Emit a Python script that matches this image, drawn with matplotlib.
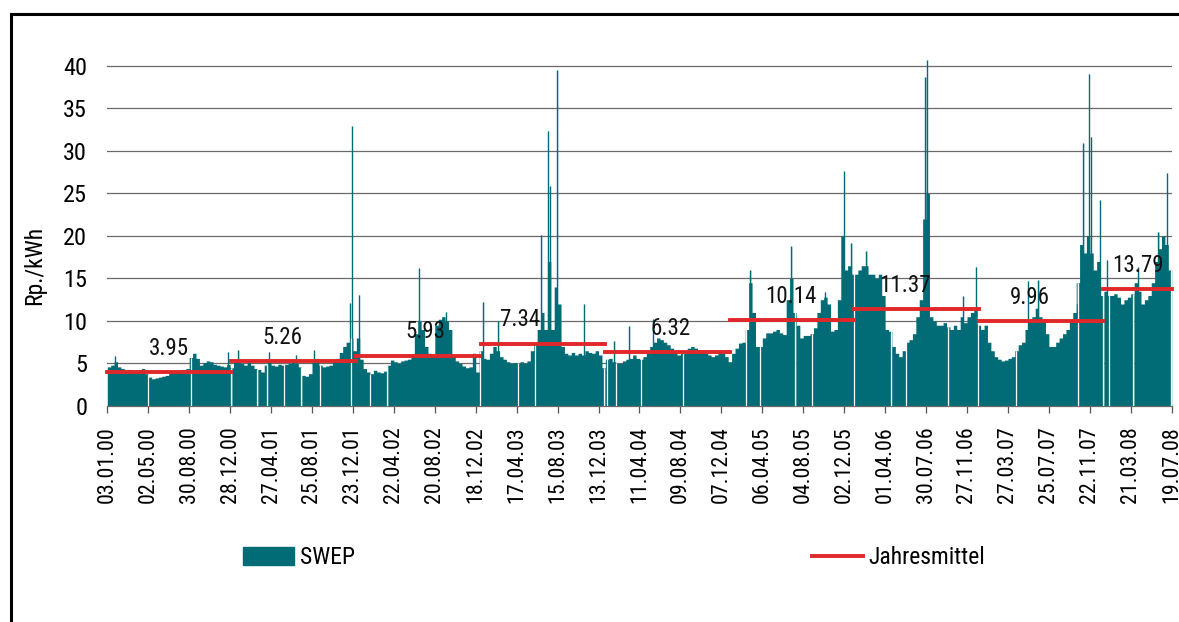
import matplotlib
matplotlib.use("Agg")
import matplotlib.pyplot as plt
import matplotlib.dates as mdates
from matplotlib import font_manager
from matplotlib.lines import Line2D
from matplotlib.patches import Patch
import pandas as pd

swep_blocks = [
    4.6, 4.8, 5.2, 4.6, 4.4, 4.3, 4.3, 4.2, 4.2, 4.3, 4.4, 3.8,
    3.4, 3.2, 3.3, 3.4, 3.5, 3.6, 3.9, 4.0, 4.1, 4.2, 4.3, 4.4,
    5.7, 6.2, 5.6, 4.8, 5.1, 5.3, 5.2, 4.9, 4.8, 4.7, 4.6, 4.9,
    4.5, 5.5, 5.2, 5.0, 4.8, 5.3, 4.8, 4.4, 4.3, 4.0, 4.8, 5.3,
    4.8, 4.7, 4.9, 4.8, 4.9, 5.0, 5.5, 5.0, 4.6, 3.6, 3.5, 3.8,
    5.2, 5.6, 4.8, 4.6, 4.7, 4.8, 5.2, 5.6, 6.3, 7.0, 7.5, 8.0,
    6.5, 8.0, 5.5, 4.4, 4.0, 3.8, 4.2, 4.0, 3.9, 4.1, 4.8, 5.4,
    5.2, 5.0, 5.3, 5.4, 5.5, 6.0, 8.5, 10.0, 9.0, 7.0, 6.2, 6.0,
    9.5, 10.2, 10.5, 10.0, 9.0, 6.0, 5.3, 5.0, 4.7, 4.5, 4.6, 6.2,
    4.0, 6.5, 5.6, 5.5, 6.2, 7.0, 6.5, 5.8, 5.5, 5.2, 5.0, 5.1,
    5.0, 5.2, 5.0, 5.3, 6.5, 7.5, 9.0, 11.0, 9.0, 17.0, 9.0, 14.0,
    12.0, 7.0, 6.2, 6.0, 6.3, 6.0, 6.2, 6.0, 6.5, 6.3, 6.2, 6.5,
    6.0, 4.5, 5.5, 5.6, 5.2, 5.0, 5.0, 5.3, 5.5, 5.6, 6.0, 5.6,
    5.5, 5.8, 6.2, 7.0, 7.5, 8.0, 7.8, 7.5, 7.2, 6.8, 6.3, 6.0,
    6.2, 6.5, 6.8, 7.0, 6.8, 6.5, 6.3, 6.2, 6.0, 5.8, 6.0, 6.3,
    6.2, 5.8, 5.2, 6.2, 6.8, 7.4, 7.5, 9.0, 14.5, 11.0, 7.0, 7.0,
    8.0, 8.6, 8.6, 8.8, 9.0, 8.6, 8.4, 12.5, 15.0, 11.0, 9.5, 8.0,
    8.3, 8.3, 8.5, 9.2, 11.0, 12.5, 12.8, 12.0, 8.8, 9.0, 12.5, 20.0,
    16.0, 16.5, 15.5, 15.5, 16.0, 16.5, 16.5, 15.5, 15.5, 15.0, 15.5, 13.0,
    9.0, 8.8, 7.0, 6.2, 5.8, 6.5, 7.5, 7.8, 8.5, 10.5, 12.5, 22.0,
    25.0, 10.5, 10.0, 9.5, 9.5, 9.8, 9.3, 9.0, 9.5, 9.0, 10.5, 9.8,
    10.5, 11.0, 11.5, 9.5, 9.0, 9.5, 7.5, 6.5, 5.8, 5.5, 5.3, 5.4,
    5.6, 5.8, 6.5, 7.2, 7.5, 9.0, 10.0, 10.5, 11.5, 10.5, 10.0, 8.5,
    7.0, 7.0, 7.5, 8.0, 8.5, 9.0, 10.0, 11.0, 14.5, 19.0, 18.0, 20.0,
    18.0, 16.0, 17.0, 13.0, 13.5, 13.0, 13.0, 13.2, 12.8, 12.0, 12.5, 12.8,
    13.2, 14.5, 13.5, 12.0, 12.5, 13.0, 14.5, 17.0, 18.5, 20.0, 19.0, 16.0,
]

# einzelne Spitzen (Datum, Rp./kWh)
spike_dates = [
    '2000-01-26', '2000-12-22', '2001-01-21', '2001-04-20', '2001-07-08',
    '2001-08-30', '2001-12-13', '2001-12-20', '2002-01-10', '2002-07-05',
    '2002-09-21', '2003-01-09', '2003-02-22', '2003-06-28', '2003-07-18',
    '2003-07-24', '2003-08-14', '2003-10-30', '2004-01-28', '2004-03-12',
    '2004-05-20', '2005-03-02', '2005-06-30', '2005-10-06', '2005-12-02',
    '2005-12-23', '2006-02-05', '2006-07-28', '2006-08-01', '2006-11-16',
    '2006-12-23', '2007-05-25', '2007-06-24', '2007-10-14', '2007-11-03',
    '2007-11-19', '2007-11-25', '2007-12-22', '2008-01-10', '2008-04-12',
    '2008-06-10', '2008-07-04',
]
spike_values = [
    5.9, 6.4, 6.6, 6.4, 6.0,
    6.6, 12.1, 32.9, 13.1, 16.2,
    11.1, 12.2, 10.0, 20.1, 32.4,
    25.9, 39.5, 12.0, 7.6, 9.4,
    10.2, 16.0, 18.8, 13.4, 27.6,
    19.2, 18.2, 38.7, 40.7, 12.9,
    16.4, 14.7, 14.8, 12.0, 30.9,
    39.1, 31.7, 24.2, 17.2, 16.4,
    20.5, 27.4,
]

# Tage ohne Notierung (Wert 0)
gap_dates = [
    '2000-05-01', '2000-09-03', '2001-01-01', '2001-03-18', '2001-04-16',
    '2001-06-03', '2001-07-25', '2001-09-17', '2001-12-18', '2002-02-11',
    '2002-04-03', '2002-12-30', '2003-04-20', '2003-06-10', '2003-12-30',
    '2004-01-06', '2004-02-02', '2004-04-15', '2004-08-16', '2005-02-16',
    '2005-03-29', '2005-07-12', '2005-08-30', '2005-12-31', '2006-04-19',
    '2006-05-31', '2006-10-03', '2006-12-28', '2007-04-19', '2007-10-19',
    '2008-01-01', '2008-01-17', '2008-03-29', '2008-07-16',
]

years = [2000, 2001, 2002, 2003, 2004, 2005, 2006, 2007, 2008]
year_means = [3.95, 5.26, 5.93, 7.34, 6.32, 10.14, 11.37, 9.96, 13.79]


# schmale Schrift suchen (Original: Arial Narrow), sonst normale Schrift kleiner
def pick_font():
    fonts = font_manager.fontManager.ttflist
    for want in ['Liberation Sans Narrow', 'Arial Narrow', 'Roboto Condensed',
                 'Open Sans Condensed', 'Noto Sans Condensed', 'DejaVu Sans Condensed']:
        if any(f.name == want for f in fonts):
            return want, 'normal', 1.0
    for f in fonts:
        if f.stretch in ('condensed', 'semi-condensed') and f.style == 'normal' \
                and f.name in ('Noto Sans', 'DejaVu Sans', 'Open Sans', 'Roboto'):
            return f.name, f.stretch, 0.95
    return 'Liberation Sans', 'normal', 0.86


fam, stretch, fs = pick_font()
plt.rcParams['font.family'] = [fam, 'DejaVu Sans']
plt.rcParams['font.stretch'] = stretch

first_day = pd.Timestamp('2000-01-03')
last_day = pd.Timestamp('2008-07-19')

days = pd.date_range(first_day, last_day, freq='D')
block_idx = pd.date_range(first_day, periods=len(swep_blocks), freq='10D')
swep = pd.Series(swep_blocks, index=block_idx).reindex(days, method='ffill')
spikes = pd.to_datetime(spike_dates)
swep.loc[spikes] = spike_values
gaps = pd.to_datetime(gap_dates)
gap_heights = swep.loc[gaps].values
swep.loc[gaps] = 0.0

teal = '#016C75'
red = '#E0282A'

fig = plt.figure(figsize=(11.79, 6.22), dpi=100)
ax = fig.add_axes([0.091, 0.3473, 0.9028, 0.574])

ax.fill_between(days, swep.values, step='post', color=teal, lw=0, zorder=2)
ax.vlines(spikes, 0, spike_values, color=teal, lw=1.0, zorder=2)
ax.vlines(gaps, 0, gap_heights, color='white', lw=0.9, zorder=3)

# Beschriftungen wie im Original leicht aus der Jahresmitte verschoben (Punkte)
label_shift = [0, -8, 5, -16, 2, -1, -8, -8, 0]

for yr, m, dx in zip(years, year_means, label_shift):
    y0 = max(pd.Timestamp(f'{yr}-01-01'), first_day)
    y1 = min(pd.Timestamp(f'{yr}-12-31'), last_day)
    ax.plot([y0, y1], [m, m], color=red, lw=2.8, solid_capstyle='projecting',
            clip_on=False, zorder=4)
    mid = y0 + (y1 - y0) / 2
    ax.annotate(f'{m:.2f}', xy=(mid, m), xytext=(dx, 17), textcoords='offset points',
                ha='center', va='center', fontsize=16.5 * fs, color='#111111', zorder=5)

ax.set_xlim(first_day, last_day)
ax.set_ylim(0, 42)
ax.set_yticks(range(0, 45, 5))
ax.yaxis.grid(True, color='#6a6a6a', lw=0.9, zorder=0)
ax.set_axisbelow(True)

ticks = pd.date_range(first_day, last_day, freq='120D')
ax.set_xticks(ticks)
ax.xaxis.set_major_formatter(mdates.DateFormatter('%d.%m.%y'))
ax.tick_params(axis='x', rotation=90, labelsize=15.8 * fs, length=4.7, width=0.9,
               color='#555555', pad=10)
ax.tick_params(axis='y', labelsize=17.5 * fs, length=0, pad=14.5)

for side in ['top', 'right', 'left']:
    ax.spines[side].set_visible(False)
ax.spines['bottom'].set_color('#6a6a6a')
ax.spines['bottom'].set_linewidth(0.9)

ax.set_ylabel('Rp./kWh', fontsize=17 * fs)
ax.yaxis.set_label_coords(-0.057, 0.395)

fig.legend(handles=[Patch(color=teal, label='SWEP')], loc='center left',
           bbox_to_anchor=(243 / 1179, 64 / 622), frameon=False, borderpad=0,
           borderaxespad=0, handlelength=2.15 / fs, handleheight=0.8 / fs,
           handletextpad=0.25 / fs, fontsize=17 * fs)
fig.legend(handles=[Line2D([], [], color=red, lw=2.8, label='Jahresmittel')],
           loc='center left', bbox_to_anchor=(812 / 1179, 64 / 622),
           frameon=False, borderpad=0, borderaxespad=0, handlelength=2.15 / fs,
           handletextpad=0.25 / fs, fontsize=17 * fs)

# Rahmen links und oben
fig.add_artist(Line2D([10.5 / 1179, 10.5 / 1179], [0, 1 - 13.5 / 622],
                      transform=fig.transFigure, color='black', lw=2.2))
fig.add_artist(Line2D([10.5 / 1179, 1], [1 - 13.5 / 622, 1 - 13.5 / 622],
                      transform=fig.transFigure, color='black', lw=2.2))

fig.savefig('out.png', dpi=100)
